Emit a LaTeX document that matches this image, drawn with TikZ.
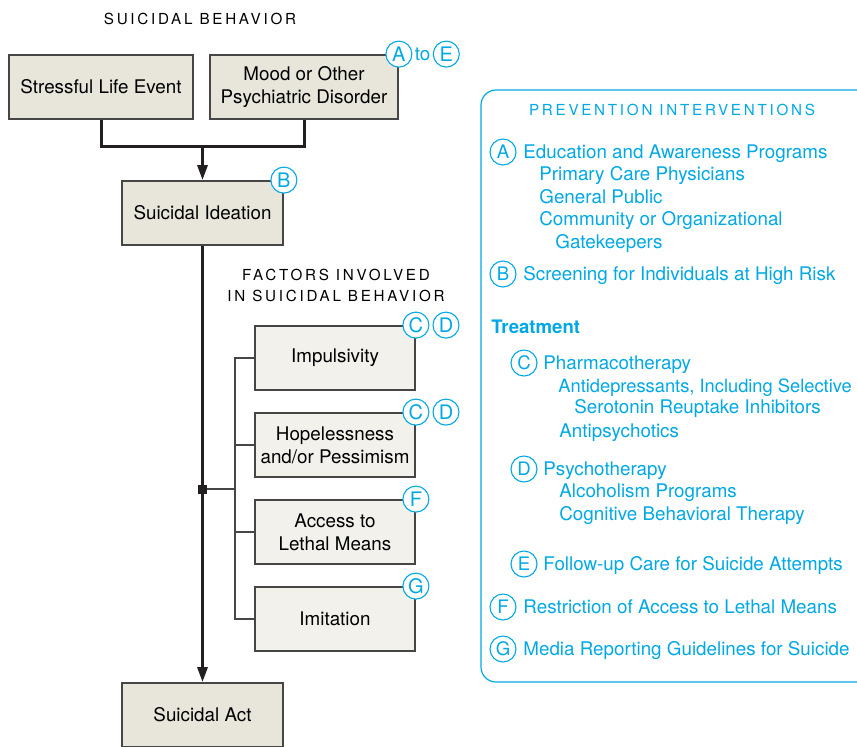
\documentclass[tikz,border=0pt]{standalone}
\usepackage{fontspec}
\setmainfont{TeX Gyre Heros}
\newfontfamily\spaced[LetterSpace=18]{TeX Gyre Heros}
\usetikzlibrary{arrows.meta,positioning}
\definecolor{cyanink}{RGB}{0,169,230}
\definecolor{boxtan}{RGB}{232,230,219}
\definecolor{boxpale}{RGB}{242,241,236}
\definecolor{inkline}{RGB}{35,31,32}
\definecolor{rimgray}{RGB}{70,70,70}

\begin{document}
\begin{tikzpicture}[x=0.5pt,y=-0.5pt,
  every node/.style={font=\fontsize{9.4}{11.4}\selectfont},
  mainbox/.style={draw=rimgray,line width=0.9pt,fill=boxtan,minimum height=32pt,align=center,inner sep=2pt},
  factorbox/.style={draw=rimgray,line width=0.9pt,fill=boxpale,minimum width=80pt,minimum height=32pt,align=center,inner sep=2pt},
  letter/.style={circle,draw=cyanink,line width=0.55pt,fill=white,text=cyanink,minimum size=13pt,inner sep=0pt,font=\fontsize{10}{12}\selectfont},
  tag/.style={letter,font=\fontsize{9.3}{11}\selectfont},
  heading/.style={font=\spaced\fontsize{7.6}{10.5}\selectfont,align=center},
  item/.style={anchor=base west,inner sep=0pt,text=cyanink},
  flow/.style={inkline,line width=1.5pt},
  twig/.style={rimgray,line width=0.65pt},
  arrowed/.style={-{Triangle[length=7.5pt,width=5pt]}}
]
\fill[white] (0,0) rectangle (857,746);
\useasboundingbox (0,0) rectangle (857,746);
\clip (0,0) rectangle (857,746);

% left side: the path to the act
\node[heading] (title) at (200,19) {SUICIDAL BEHAVIOR};
\node[mainbox,minimum width=92pt] (stress) at (101,87) {Stressful Life Event};
\node[mainbox,minimum width=94pt] (mood) at (304,87) {Mood or Other\\Psychiatric Disorder};
\node[mainbox,minimum width=80.5pt] (ideation) at (202.5,213) {Suicidal Ideation};
\node[mainbox,minimum width=80.5pt] (act) at (202.5,715) {Suicidal Act};

\node[heading] (factors) at (336,285) {FACTORS INVOLVED\\IN SUICIDAL BEHAVIOR};
\node[factorbox] (impuls) at (335,358) {Impulsivity};
\node[factorbox] (hope) at (335,445) {Hopelessness\\and/or Pessimism};
\node[factorbox] (access) at (335,532) {Access to\\Lethal Means};
\node[factorbox] (imit) at (335,619) {Imitation};

\coordinate (merge) at (202.5,146);
\draw[flow] (stress.south) |- (merge) -| (mood.south);
\draw[flow,arrowed] (merge) -- (ideation.north);
\draw[flow,arrowed] (ideation.south) -- (act.north);

\coordinate (spine) at (235,489);
\node[fill=inkline,minimum size=4.5pt,inner sep=0pt] (joint) at (202.5,489) {};
\draw[twig] (joint) -- (spine);
\draw[twig] (impuls.west) -| (spine) |- (imit.west);
\draw[twig] (hope.west) -- (hope.west -| spine);
\draw[twig] (access.west) -- (access.west -| spine);

% letters on the boxes
\node[letter] (ca) at (mood.north east) {A};
\node[right=0pt of ca,text=cyanink,inner sep=1pt] (to) {to};
\node[letter,right=0pt of to] (ce) {E};
\node[letter] (cb) at (ideation.north east) {B};
\node[letter] (c1) at (impuls.north east) {C};
\node[letter,right=1.5pt of c1] (d1) {D};
\node[letter] (c2) at (hope.north east) {C};
\node[letter,right=1.5pt of c2] (d2) {D};
\node[letter] (cf) at (access.north east) {F};
\node[letter] (cg) at (imit.north east) {G};

% right side: prevention interventions
\draw[cyanink,line width=0.6pt,rounded corners=7.5pt] (481,90) rectangle (880,682);
\node[heading,text=cyanink] (prev) at (672,110) {PREVENTION INTERVENTIONS};

\node[tag] (pa) at (503,152) {A};
\node[item] (ta) at (523,158.5) {Education and Awareness Programs};
\node[item] (ta1) at (539,180.5) {Primary Care Physicians};
\node[item] (ta2) at (539,203.5) {General Public};
\node[item] (ta3) at (539,225.5) {Community or Organizational};
\node[item] (ta4) at (555,248.5) {Gatekeepers};

\node[tag] (pb) at (503,274) {B};
\node[item] (tb) at (523,280.5) {Screening for Individuals at High Risk};

\node[item,font=\bfseries\fontsize{9.3}{11}\selectfont] (treat) at (491,333.5) {Treatment};

\node[tag] (pc) at (524,363) {C};
\node[item] (tc) at (543,369.5) {Pharmacotherapy};
\node[item,font=\fontsize{9.15}{11}\selectfont] (tc1) at (558,392.5) {Antidepressants, Including Selective};
\node[item] (tc2) at (574,413.5) {Serotonin Reuptake Inhibitors};
\node[item] (tc3) at (559,437.5) {Antipsychotics};

\node[tag] (pd) at (524,469) {D};
\node[item] (td) at (543,475.5) {Psychotherapy};
\node[item] (td1) at (559,497.5) {Alcoholism Programs};
\node[item] (td2) at (559,520.5) {Cognitive Behavioral Therapy};

\node[tag] (pe) at (524,564) {E};
\node[item] (te) at (543,570.5) {Follow-up Care for Suicide Attempts};

\node[tag] (pf) at (503,607) {F};
\node[item] (tf) at (523,613.5) {Restriction of Access to Lethal Means};

\node[tag] (pg) at (503,649) {G};
\node[item] (tg) at (523,655.5) {Media Reporting Guidelines for Suicide};

\end{tikzpicture}
\end{document}
